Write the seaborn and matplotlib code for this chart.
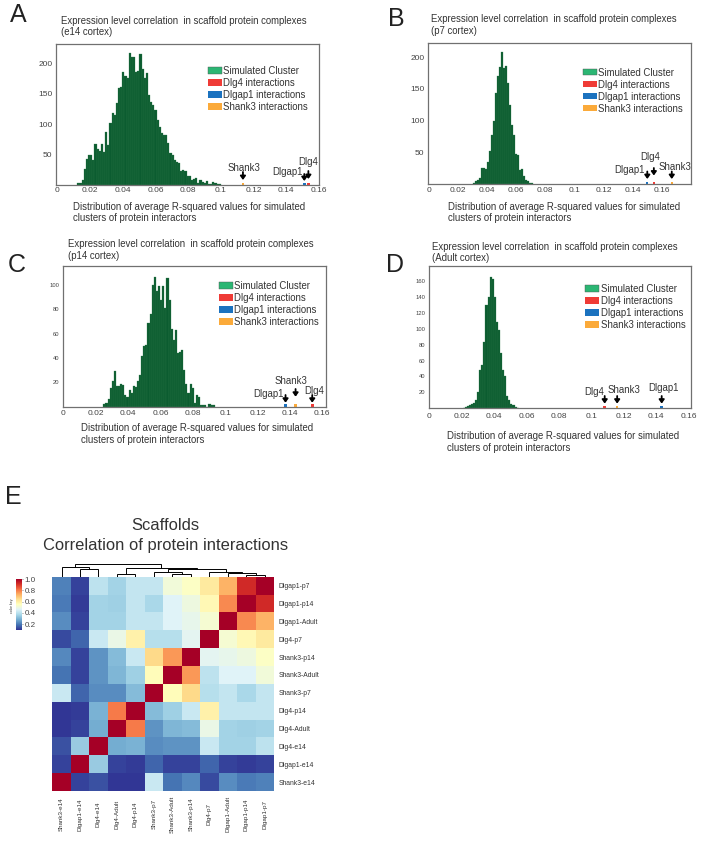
import numpy as np
import pandas as pd
import matplotlib
matplotlib.use("Agg")
import matplotlib.pyplot as plt
from matplotlib.patches import Patch
import seaborn as sns

# histogram heights, one list per panel
counts_e14 = [3, 4, 8, 27, 43, 49, 50, 41, 67, 60, 56, 68, 55, 87, 66, 102, 118, 115, 135, 160,
              162, 186, 180, 176, 218, 210, 210, 186, 188, 215, 191, 176, 184, 148, 137, 132, 124,
              107, 96, 85, 83, 83, 69, 52, 49, 41, 38, 36, 23, 25, 23, 15, 14, 8, 10, 11, 4, 8, 5,
              3, 7, 2, 1, 5, 4, 2, 1]
counts_p7 = [1, 4, 6, 10, 26, 26, 24, 35, 52, 77, 100, 143, 170, 185, 208, 183, 187, 159, 125, 93,
             77, 48, 46, 22, 24, 12, 6, 4, 2, 1]
counts_p14 = [2, 3, 6, 15, 21, 29, 17, 17, 19, 18, 10, 8, 14, 11, 17, 16, 21, 26, 42, 50, 51, 69,
              76, 100, 107, 95, 99, 88, 99, 81, 106, 88, 64, 55, 63, 44, 45, 47, 30, 19, 11, 19, 15,
              3, 10, 8, 1, 1, 1, 0, 2, 1, 1]
counts_adult = [1, 2, 3, 4, 5, 7, 11, 21, 48, 55, 84, 130, 140, 165, 163, 140, 109, 98, 69, 48, 41,
                15, 11, 6, 4, 2, 1]

# first bin edge and bin width of each histogram
bin_starts = [0.0122, 0.0303, 0.0247, 0.0206]
bin_widths = [0.00131, 0.00138, 0.0013, 0.00128]

panel_names = ["e14", "p7", "p14", "Adult"]
dlg4_values = [0.1535, 0.1545, 0.1538, 0.1083]
dlgap1_values = [0.151, 0.150, 0.1373, 0.1435]
shank3_values = [0.1135, 0.1668, 0.1435, 0.116]
marker_counts = [3, 3, 2, 3]

x_ticks = [0, 0.02, 0.04, 0.06, 0.08, 0.1, 0.12, 0.14, 0.16]
x_tick_labels = ["0", "0.02", "0.04", "0.06", "0.08", "0.1", "0.12", "0.14", "0.16"]
y_ticks_e14 = [50, 100, 150, 200]
y_ticks_p7 = [50, 100, 150, 200]
y_ticks_p14 = [20, 40, 60, 80, 100]
y_ticks_adult = [20, 40, 60, 80, 100, 120, 140, 160]

legend_labels = ["Simulated Cluster", "Dlg4 interactions", "Dlgap1 interactions", "Shank3 interactions"]

# heatmap
col_names = ["Shank3-e14", "Dlgap1-e14", "Dlg4-e14", "Dlg4-Adult", "Dlg4-p14", "Shank3-p7",
             "Shank3-Adult", "Shank3-p14", "Dlg4-p7", "Dlgap1-Adult", "Dlgap1-p14", "Dlgap1-p7"]
row_names = col_names[::-1]
corr_values = [
    [.21, .12, .40, .36, .41, .41, .51, .54, .61, .72, .92, 1.0],
    [.20, .11, .36, .35, .41, .37, .46, .50, .57, .78, 1.0, .92],
    [.23, .12, .36, .36, .41, .41, .46, .48, .52, 1.0, .78, .72],
    [.13, .17, .42, .49, .59, .39, .39, .47, 1.0, .52, .57, .61],
    [.22, .12, .24, .31, .42, .65, .76, 1.0, .47, .48, .50, .54],
    [.19, .12, .24, .30, .35, .56, 1.0, .76, .40, .46, .46, .51],
    [.42, .17, .23, .23, .31, 1.0, .56, .65, .39, .41, .37, .41],
    [.10, .11, .29, .80, 1.0, .31, .35, .42, .59, .41, .41, .41],
    [.10, .12, .28, 1.0, .80, .24, .30, .31, .49, .36, .35, .36],
    [.14, .34, 1.0, .28, .29, .23, .24, .24, .42, .36, .36, .40],
    [.12, 1.0, .34, .12, .11, .17, .12, .12, .17, .12, .11, .12],
    [1.0, .12, .14, .10, .10, .42, .19, .22, .13, .23, .20, .21],
]
# dendrogram merges: left node, right node, height. Leaves are 0-11, merges count on from 12
merges = [(10, 11, 5), (9, 12, 10), (8, 13, 15), (6, 7, 8), (5, 15, 14), (16, 14, 23),
          (3, 4, 8), (18, 17, 26), (1, 2, 22), (0, 20, 27), (21, 19, 36)]

W, H = 702, 842
GREEN = "#0b5c30"
TEXT = "#333333"
COLORS = {"sim": "#2bb673", "dlg4": "#ef3b36", "dlgap1": "#1b72bf", "shank3": "#fbaa3a"}


def px_axes(fig, left, top, right, bottom):
    return fig.add_axes([left / W, 1 - bottom / H, (right - left) / W, (bottom - top) / H])


def px_text(fig, x, y, s, **kw):
    kw.setdefault("color", TEXT)
    kw.setdefault("va", "center")
    return fig.text(x / W, 1 - y / H, s, **kw)


def draw_hist(ax, counts, i, xlim, ylim, yticks, ytick_size, xpad):
    edges = bin_starts[i] + bin_widths[i] * np.arange(len(counts) + 1)
    df = pd.DataFrame({"value": edges[:-1] + bin_widths[i] / 2, "count": counts})
    sns.histplot(data=df, x="value", weights="count", bins=list(edges), color=GREEN, alpha=1,
                 edgecolor="#2f7a4c", linewidth=0.2, ax=ax)
    for vals, key in [(dlg4_values, "dlg4"), (dlgap1_values, "dlgap1"), (shank3_values, "shank3")]:
        v = vals[i]
        sns.histplot(x=[v], weights=[marker_counts[i]], bins=[v - 0.0008, v + 0.0008],
                     color=COLORS[key], alpha=1, linewidth=0, ax=ax)
    ax.set_xlim(*xlim)
    ax.set_ylim(0, ylim)
    ax.set_xticks(x_ticks)
    ax.set_xticklabels(x_tick_labels)
    ax.set_yticks(yticks)
    ax.set_xlabel("")
    ax.set_ylabel("")
    ax.tick_params(axis="x", labelsize=6, length=1.5, width=0.5, pad=xpad, colors="#444444")
    ax.tick_params(axis="y", labelsize=ytick_size, length=1.5, width=0.5, pad=1, colors="#444444")
    for sp in ax.spines.values():
        sp.set_color("#707070")
        sp.set_linewidth(0.9)
        sp.set_visible(True)


def arrow_label(ax, value, label, dx, dy, top, tip):
    x_px, y_px = ax.transData.transform((value, 0))
    ax.annotate("", xy=(x_px, y_px + tip), xytext=(x_px, y_px + top), xycoords="figure pixels",
                textcoords="figure pixels",
                arrowprops=dict(arrowstyle="-|>,head_width=0.13,head_length=0.18", color="black",
                                lw=1.3, shrinkA=0, shrinkB=0))
    ax.annotate(label, xy=(x_px + dx, y_px + dy), xycoords="figure pixels", ha="center",
                va="center", fontsize=6.9, color=TEXT)


def add_legend(fig, ax, x, y):
    handles = [Patch(facecolor=COLORS[k], edgecolor="#555555" if k == "sim" else "none", linewidth=0.3)
               for k in ["sim", "dlg4", "dlgap1", "shank3"]]
    ax.legend(handles, legend_labels, loc="upper left", bbox_to_anchor=(x / W, 1 - y / H),
              bbox_transform=fig.transFigure, frameon=False, fontsize=6.9, borderpad=0,
              borderaxespad=0, handlelength=1.45, handleheight=0.65, handletextpad=0.15,
              labelspacing=0.21, labelcolor=TEXT)


sns.set_theme(style="white")
plt.rcParams["font.family"] = ["Liberation Sans", "DejaVu Sans"]

fig = plt.figure(figsize=(W / 100, H / 100), dpi=100, facecolor="white")

panels = [
    dict(rect=(56, 44, 319, 185), xlim=(-0.0008, 0.16), ylim=232, yticks=y_ticks_e14, ysize=6, xpad=0.3,
         counts=counts_e14, title=(61, 20.7, 32), xlabel=(73, 206.7, 218), legend=(208, 66),
         letter=("A", 10, 15.5),
         arrows=[("Shank3", shank3_values, 1, 17, 13, 5), ("Dlgap1", dlgap1_values, -17, 13, 11, 4),
                 ("Dlg4", dlg4_values, 0, 23, 14, 6)]),
    dict(rect=(427.7, 42.7, 691, 184), xlim=(-0.0007, 0.18), ylim=223, yticks=y_ticks_p7, ysize=6, xpad=1,
         counts=counts_p7, title=(430.7, 19.3, 31), xlabel=(447.7, 206.7, 218), legend=(582.7, 67.5),
         letter=("B", 387.5, 19),
         arrows=[("Dlgap1", dlgap1_values, -18, 14, 12.5, 5), ("Dlg4", dlg4_values, -4, 27, 16, 8.5),
                 ("Shank3", shank3_values, 3, 17, 12.5, 5)]),
    dict(rect=(63, 265.7, 326, 406.7), xlim=(-0.0002, 0.1623), ylim=116, yticks=y_ticks_p14, ysize=4.2, xpad=0.7,
         counts=counts_p14, title=(67.7, 244, 256), xlabel=(81, 427.7, 440), legend=(218.7, 281),
         letter=("C", 8, 264.5),
         arrows=[("Dlgap1", dlgap1_values, -17, 12.7, 11.7, 4), ("Shank3", shank3_values, -5, 25.7, 17.7, 10),
                 ("Dlg4", dlg4_values, 2, 16, 11.7, 4)]),
    dict(rect=(428.7, 266.3, 691, 408.3), xlim=(-0.0004, 0.1616), ylim=178.6, yticks=y_ticks_adult, ysize=4.2, xpad=1.7,
         counts=counts_adult, title=(431.7, 246.7, 258.3), xlabel=(446.7, 436, 448), legend=(585.3, 284),
         letter=("D", 385.5, 264.5),
         arrows=[("Dlg4", dlg4_values, -11, 16.7, 12.3, 4.7), ("Shank3", shank3_values, 7, 18, 12.3, 4.7),
                 ("Dlgap1", dlgap1_values, 2, 20, 12.3, 4.7)]),
]

for i, p in enumerate(panels):
    ax = px_axes(fig, *p["rect"])
    draw_hist(ax, p["counts"], i, p["xlim"], p["ylim"], p["yticks"], p["ysize"], p["xpad"])
    add_legend(fig, ax, *p["legend"])
    tx, ty1, ty2 = p["title"]
    px_text(fig, tx, ty1, "Expression level correlation  in scaffold protein complexes", fontsize=6.9)
    px_text(fig, tx, ty2, f"({panel_names[i]} cortex)", fontsize=6.9)
    lx, ly1, ly2 = p["xlabel"]
    px_text(fig, lx, ly1, "Distribution of average R-squared values for simulated", fontsize=6.9)
    px_text(fig, lx, ly2, "clusters of protein interactors", fontsize=6.9)
    letter, x, y = p["letter"]
    px_text(fig, x, y, letter, fontsize=18, color="#222222", ha="left")
    for label, vals, dx, dy, top, tip in p["arrows"]:
        arrow_label(ax, vals[i], label, dx, dy, top, tip)

# panel E
px_text(fig, 5, 496.5, "E", fontsize=18, color="#222222", ha="left")
px_text(fig, 165.7, 525.7, "Scaffolds", fontsize=11.85, ha="center")
px_text(fig, 165.7, 545.7, "Correlation of protein interactions", fontsize=11.85, ha="center")

hm_ax = px_axes(fig, 52.3, 576.7, 274, 791)
cb_ax = px_axes(fig, 15.5, 579, 21.5, 629.7)
corr = pd.DataFrame(corr_values, index=row_names, columns=col_names)
sns.heatmap(corr, cmap="RdYlBu_r", vmin=0.1, vmax=1.0, square=False, ax=hm_ax, cbar_ax=cb_ax,
            cbar_kws={"ticks": [0.2, 0.4, 0.6, 0.8, 1.0]})
hm_ax.yaxis.tick_right()
hm_ax.set_yticklabels(row_names, rotation=0, fontsize=4.85, color=TEXT)
hm_ax.set_xticklabels(col_names, rotation=90, fontsize=4.5, color=TEXT, va="center")
hm_ax.tick_params(axis="y", length=0, pad=3)
hm_ax.tick_params(axis="x", length=0, pad=16.8)
cb_ax.tick_params(labelsize=5.8, length=1, width=0.4, pad=1, colors="#444444")
px_text(fig, 11.5, 606, "color key", fontsize=2.6, rotation=90, ha="center")

# dendrogram, built from the merge list
dn_ax = px_axes(fig, 52.3, 564, 274, 576.7)
node_x = {k: k + 0.5 for k in range(len(col_names))}
node_h = {k: 0 for k in range(len(col_names))}
for k, (a, b, h) in enumerate(merges):
    dn_ax.plot([node_x[a], node_x[a], node_x[b], node_x[b]], [node_h[a], h, h, node_h[b]],
               color="black", lw=0.7, solid_joinstyle="miter")
    node_x[12 + k] = (node_x[a] + node_x[b]) / 2
    node_h[12 + k] = h
dn_ax.set_xlim(0, len(col_names))
dn_ax.set_ylim(0, 37)
dn_ax.axis("off")

fig.savefig("out.png", dpi=100, facecolor="white")
